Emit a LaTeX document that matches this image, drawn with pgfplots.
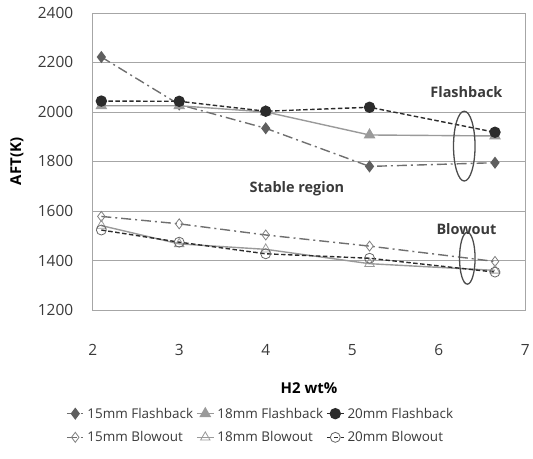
\documentclass[border=0pt]{standalone}
\usepackage{pgfplots}
\pgfplotsset{compat=1.18}
\usepackage{fontspec}
\setmainfont{Open Sans}
\definecolor{gridc}{HTML}{A6A6A6}
\definecolor{fbA}{HTML}{5F5F5F}
\definecolor{fbB}{HTML}{9A9A9A}
\definecolor{fbC}{HTML}{2B2B2B}
\definecolor{txt}{HTML}{3A3A3A}
\begin{document}
\begin{tikzpicture}
\begin{axis}[
  scale only axis, width=434pt, height=298pt,
  xmin=2, xmax=7, ymin=1200, ymax=2400,
  xtick={2,3,4,5,6,7}, ytick={1200,1400,...,2400},
  ymajorgrids, major grid style={color=gridc, line width=0.8pt},
  axis line style={draw=gridc, line width=0.8pt},
  major tick length=0pt,
  /pgf/number format/assume math mode=true,
  /pgf/number format/1000 sep={},
  tick label style={font=\fontsize{15.5}{17}\selectfont, color=txt},
  xticklabel style={anchor=center, yshift=-40pt},
  yticklabel style={anchor=east, xshift=-16pt},
  xlabel={\textbf{H2 wt\%}}, ylabel={\textbf{AFT(K)}},
  label style={font=\fontsize{15}{17}\selectfont, color=black},
  xlabel style={at={(axis description cs:0.5,-0.262)}, anchor=center},
  ylabel style={at={(axis description cs:-0.175,0.5)}, anchor=center},
  legend columns=3,
  legend style={at={(axis description cs:-0.062,-0.322)}, anchor=north west, draw=none,
    font=\fontsize{13.5}{15}\selectfont, text=txt, column sep=1pt, row sep=8pt,
    inner sep=0pt},
  legend cell align=left,
]
\addplot[color=fbA!90, line width=1.4pt, dash pattern=on 10pt off 4pt on 2pt off 4pt,
  mark=diamond*, mark size=5pt, mark options={solid, fill=fbA, draw=fbA}]
  coordinates {(2.1,2222) (3.0,2030) (4.0,1934) (5.2,1780) (6.65,1795)};
\addlegendentry{15mm Flashback}
\addplot[color=fbB, line width=1.4pt,
  mark=triangle*, mark size=5.5pt, mark options={solid, fill=fbB, draw=fbB}]
  coordinates {(2.1,2025) (3.0,2025) (4.0,2000) (5.2,1907) (6.65,1903)};
\addlegendentry{18mm Flashback}
\addplot[color=fbC, line width=1.4pt, dash pattern=on 4.5pt off 2.5pt,
  mark=*, mark size=5pt, mark options={solid, fill=fbC, draw=fbC}]
  coordinates {(2.1,2044) (3.0,2043) (4.0,2003) (5.2,2019) (6.65,1918)};
\addlegendentry{20mm Flashback}
\addplot[color=fbA!90, line width=1.4pt, dash pattern=on 10pt off 4pt on 2pt off 4pt,
  mark=diamond, mark size=5pt, mark options={solid, fill=white, draw=gray, line width=0.8pt}]
  coordinates {(2.1,1578) (3.0,1548) (4.0,1503) (5.2,1458) (6.65,1396)};
\addlegendentry{15mm Blowout}
\addplot[color=fbB, line width=1.4pt,
  mark=triangle, mark size=5.5pt, mark options={solid, fill=white, draw=fbB, line width=0.8pt}]
  coordinates {(2.1,1541) (3.0,1467) (4.0,1445) (5.2,1387) (6.65,1360)};
\addlegendentry{18mm Blowout}
\addplot[color=fbC, line width=1.4pt, dash pattern=on 4.5pt off 2.5pt,
  mark=o, mark size=5pt, mark options={solid, draw=gray!80!black, line width=0.8pt}]
  coordinates {(2.1,1523) (3.0,1474) (4.0,1427) (5.2,1409) (6.65,1353)};
\addlegendentry{20mm Blowout}
\draw[color=black!70, line width=1.3pt] (axis cs:6.295,1862) ellipse [x radius=10.8pt, y radius=35pt];
\draw[color=black!70, line width=1.3pt] (axis cs:6.33,1409) ellipse [x radius=7.8pt, y radius=26pt];
\node[font=\bfseries\fontsize{14.5}{16}\selectfont, color=txt] at (axis cs:6.32,2080) {Flashback};
\node[font=\bfseries\fontsize{14.5}{16}\selectfont, color=txt] at (axis cs:6.32,1526) {Blowout};
\node[font=\bfseries\fontsize{14.5}{16}\selectfont, color=txt] at (axis cs:4.36,1690) {Stable region};
\end{axis}
\path (current axis.south west) ++(-93pt,-149pt) rectangle ++(533pt,460pt);
\end{tikzpicture}
\end{document}
